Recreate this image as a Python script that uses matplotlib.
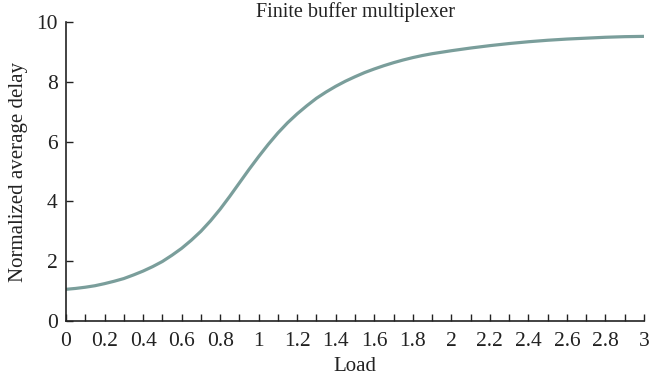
import matplotlib
matplotlib.use("Agg")
import matplotlib.pyplot as plt
from matplotlib.ticker import MultipleLocator

# Finite buffer multiplexer: normalized average delay vs load
load = [0.00, 0.05, 0.10, 0.15, 0.20, 0.25, 0.30, 0.35, 0.40, 0.45,
        0.50, 0.55, 0.60, 0.65, 0.70, 0.75, 0.80, 0.85, 0.90, 0.95,
        1.00, 1.05, 1.10, 1.15, 1.20, 1.25, 1.30, 1.35, 1.40, 1.45,
        1.50, 1.55, 1.60, 1.65, 1.70, 1.75, 1.80, 1.85, 1.90, 1.95,
        2.00, 2.10, 2.20, 2.30, 2.40, 2.50, 2.60, 2.70, 2.80, 2.90, 3.00]
delay = [1.06, 1.09, 1.13, 1.18, 1.25, 1.33, 1.42, 1.54, 1.67, 1.82,
         1.99, 2.20, 2.43, 2.70, 3.00, 3.35, 3.74, 4.17, 4.62, 5.07,
         5.50, 5.91, 6.29, 6.63, 6.93, 7.20, 7.45, 7.66, 7.85, 8.02,
         8.17, 8.31, 8.43, 8.54, 8.64, 8.73, 8.81, 8.88, 8.94, 8.99,
         9.04, 9.13, 9.21, 9.28, 9.34, 9.39, 9.43, 9.46, 9.49, 9.51, 9.52]

x_ticks = [0, 0.2, 0.4, 0.6, 0.8, 1, 1.2, 1.4, 1.6, 1.8, 2, 2.2, 2.4, 2.6, 2.8, 3]
x_tick_labels = ["0", "0.2", "0.4", "0.6", "0.8", "1", "1.2", "1.4", "1.6", "1.8",
                 "2", "2.2", "2.4", "2.6", "2.8", "3"]
y_ticks = [0, 2, 4, 6, 8, 10]

plt.rcParams["font.family"] = ["Liberation Serif", "DejaVu Serif"]
plt.rcParams["font.size"] = 15

fig = plt.figure(figsize=(6.49, 3.77), dpi=100)
ax = fig.add_axes([0.1017, 0.1485, 0.8906, 0.7931])

ax.plot(load, delay, color="#7a9e9b", linewidth=2.3, solid_capstyle="butt")

ax.set_xlim(0, 3)
ax.set_ylim(0, 10)
ax.set_xticks(x_ticks)
ax.set_xticklabels(x_tick_labels)
ax.set_yticks(y_ticks)
ax.xaxis.set_minor_locator(MultipleLocator(0.1))

for side in ("top", "right"):
    ax.spines[side].set_visible(False)
for side in ("left", "bottom"):
    ax.spines[side].set_linewidth(1.2)
    ax.spines[side].set_color("#222222")

ax.tick_params(axis="both", which="both", direction="in", color="#222222",
               width=1.0, labelcolor="#222222", labelsize=15.5)
ax.tick_params(axis="x", which="major", length=5, pad=8)
ax.tick_params(axis="x", which="minor", length=5)
ax.tick_params(axis="y", which="major", length=5, pad=6)

ax.set_xlabel("Load", color="#222222", labelpad=4)
ax.set_ylabel("Normalized average delay", color="#222222", labelpad=6)
ax.set_title("Finite buffer multiplexer", color="#222222", fontsize=14.5, pad=2)

fig.savefig("out.png", dpi=100)
